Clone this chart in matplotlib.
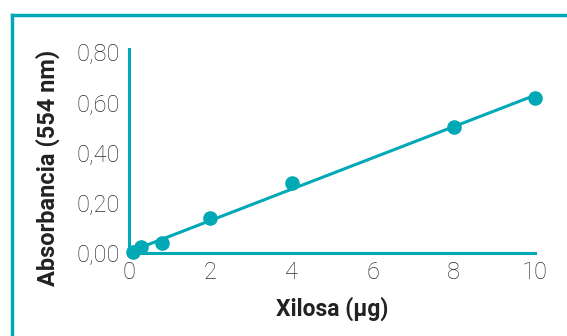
import numpy as np
import matplotlib
matplotlib.use("Agg")
import matplotlib.pyplot as plt
from matplotlib.lines import Line2D

plt.rcParams['font.family'] = ['Roboto', 'DejaVu Sans']

# data
xilosa = [0.1, 0.3, 0.8, 2, 4, 8, 10]
absorbancia = [0.0, 0.02, 0.036, 0.136, 0.276, 0.50, 0.616]
x_ticks = [0, 2, 4, 6, 8, 10]
y_ticks = [0.0, 0.2, 0.4, 0.6, 0.8]
y_ticklabels = ["0,00", "0,20", "0,40", "0,60", "0,80"]

teal = "#00a9b5"

fig = plt.figure(figsize=(5.67, 3.36), dpi=100)
ax = fig.add_axes([0.228, 0.247, 0.7155, 0.607])

# regression line
m, b = np.polyfit(xilosa, absorbancia, 1)
xl = np.array([0, 10])
ax.plot(xl, m * xl + b, color=teal, lw=2.2, clip_on=False, zorder=2)
ax.plot(xilosa, absorbancia, 'o', color=teal, ms=9.5, clip_on=False, zorder=3)

ax.set_xlim(0, 10)
ax.set_ylim(-0.003, 0.81)
ax.set_xticks(x_ticks)
ax.set_yticks(y_ticks)
ax.set_yticklabels(y_ticklabels)
ax.tick_params(length=0, labelsize=17, colors="#2e2e2e")
ax.tick_params(axis="y", pad=7)
ax.tick_params(axis="x", pad=6)
for lab in ax.get_xticklabels() + ax.get_yticklabels():
    lab.set_fontweight("light")
for s in ["top", "right"]:
    ax.spines[s].set_visible(False)
for s in ["left", "bottom"]:
    ax.spines[s].set_color(teal)
    ax.spines[s].set_linewidth(2.2)

ax.set_xlabel("Xilosa (µg)", fontsize=16.5, fontweight="bold", color="#222222", labelpad=9)
ax.set_ylabel("Absorbancia (554 nm)", fontsize=17, fontweight="bold", color="#222222")
ax.yaxis.set_label_coords(-0.171, 0.417)

# frame around the figure (top and left edges visible)
fig.add_artist(Line2D([12 / 567, 1.0], [1 - 15 / 336, 1 - 15 / 336], color=teal, lw=2.5, transform=fig.transFigure))
fig.add_artist(Line2D([12 / 567, 12 / 567], [0.0, 1 - 15 / 336], color=teal, lw=2.5, transform=fig.transFigure))

fig.savefig("out.png", dpi=100)
